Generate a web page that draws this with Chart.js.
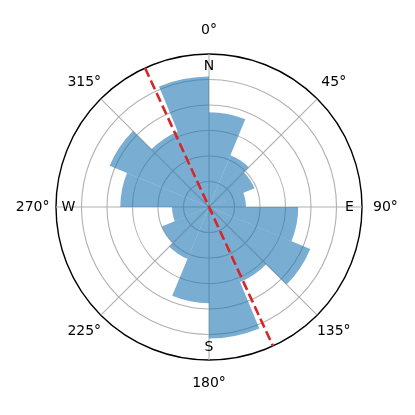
<!DOCTYPE html>
<html lang="en">
<head>
<meta charset="UTF-8">
<title>Rose diagram</title>
<script src="https://cdn.jsdelivr.net/npm/chart.js"></script>
<style>
  body { margin: 0; background: #fff; }
  #wrap { width: 415px; height: 415px; }
</style>
</head>
<body>
<div id="wrap"><canvas id="myChart"></canvas></div>
<script>
// bins of 22.5 deg, clockwise from north
const binStarts = [0, 22.5, 45, 67.5, 90, 112.5, 135, 157.5, 180, 202.5, 225, 247.5, 270, 292.5, 315, 337.5];
const counts = [3.72, 2.2, 1.93, 1.45, 3.5, 4.3, 3.18, 5.16, 3.77, 2.2, 2.0, 1.45, 3.48, 4.22, 3.2, 5.12];
const degreeLabels = ['0°', '45°', '90°', '135°', '180°', '225°', '270°', '315°'];
const compassLabels = ['N', 'E', 'S', 'W'];
const meanAxis = 335.3;
const rMax = 6;

const overlay = {
  id: 'overlay',
  afterDatasetsDraw(chart) {
    const ctx = chart.ctx;
    const scale = chart.scales.r;
    const R = scale.getDistanceFromCenterForValue(rMax);

    // mean axis, dashed red
    const a = meanAxis * Math.PI / 180 - Math.PI / 2;
    ctx.save();
    ctx.strokeStyle = '#d62728';
    ctx.lineWidth = 2.6;
    ctx.setLineDash([9.6, 4.2]);
    ctx.beginPath();
    ctx.moveTo(scale.xCenter + R * Math.cos(a), scale.yCenter + R * Math.sin(a));
    ctx.lineTo(scale.xCenter - R * Math.cos(a), scale.yCenter - R * Math.sin(a));
    ctx.stroke();
    ctx.restore();

    ctx.save();
    ctx.fillStyle = '#000';
    ctx.font = '14px "DejaVu Sans"';
    ctx.textAlign = 'center';
    ctx.textBaseline = 'middle';
    degreeLabels.forEach((t, i) => {
      const p = scale.getPointPosition(i * 2, R * 1.153);
      ctx.fillText(t, p.x, p.y);
    });
    compassLabels.forEach((t, i) => {
      const p = scale.getPointPosition(i * 4, R * 0.918);
      ctx.fillText(t, p.x, p.y);
    });
    ctx.restore();
  }
};

new Chart(document.getElementById('myChart'), {
  type: 'polarArea',
  data: {
    labels: binStarts.map(d => d + '°'),
    datasets: [{
      data: counts,
      backgroundColor: 'rgba(31, 119, 180, 0.6)',
      borderWidth: 0
    }]
  },
  options: {
    responsive: true,
    maintainAspectRatio: false,
    animation: false,
    layout: { padding: { left: 56, right: 52, top: 54, bottom: 54 } },
    plugins: { legend: { display: false }, tooltip: { enabled: false } },
    scales: {
      r: {
        min: 0,
        max: rMax,
        startAngle: 0,
        ticks: { display: false, stepSize: 1 },
        pointLabels: { display: false },
        grid: {
          circular: true,
          color: c => c.tick && c.tick.value === rMax ? '#000' : '#b0b0b0',
          lineWidth: c => c.tick && c.tick.value === rMax ? 1.4 : 1.1
        },
        angleLines: {
          display: true,
          color: c => c.index % 2 === 0 ? '#b0b0b0' : 'rgba(0,0,0,0)',
          lineWidth: 1.1
        }
      }
    }
  },
  plugins: [overlay]
});
</script>
</body>
</html>
